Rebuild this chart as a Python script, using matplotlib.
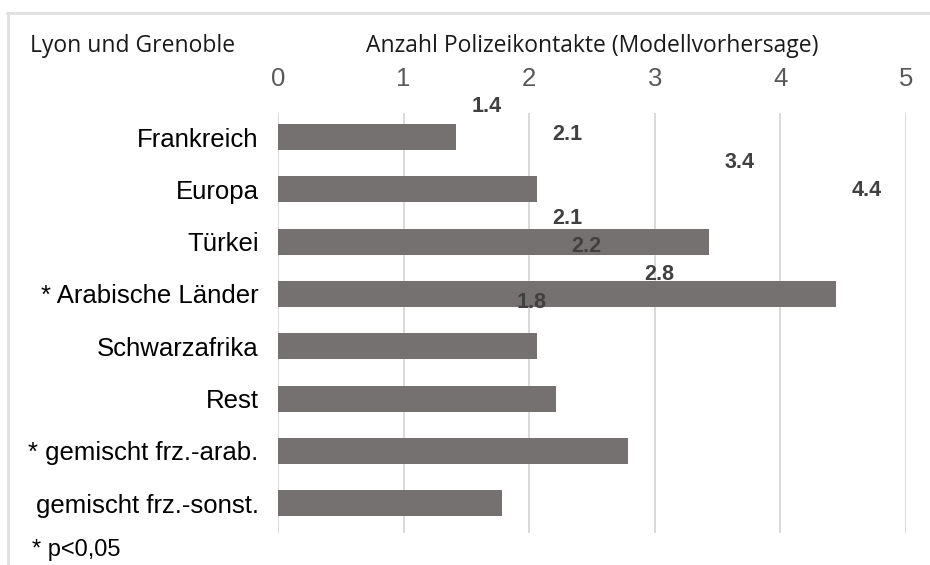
import matplotlib
matplotlib.use("Agg")
import matplotlib.pyplot as plt  # noqa: E402
from matplotlib.lines import Line2D  # noqa: E402

# ---- data --------------------------------------------------------------------
categories = ["Frankreich", "Europa", "Türkei", "* Arabische Länder",
              "Schwarzafrika", "Rest", "* gemischt frz.-arab.",
              "gemischt frz.-sonst."]
values = [1.42, 2.06, 3.43, 4.44, 2.06, 2.21, 2.79, 1.78]
xticks = [0, 1, 2, 3, 4, 5]

title = "Lyon und Grenoble"
xlabel = "Anzahl Polizeikontakte (Modellvorhersage)"
footnote = "* p<0,05"

BAR = "#767171"
GRID = "#d9d9d9"
SANS = ["Liberation Sans", "DejaVu Sans"]
HEAD = ["Open Sans", "DejaVu Sans"]

fig = plt.figure(figsize=(9.3, 5.65), dpi=100)
ax = fig.add_axes([278 / 930, 1 - 533 / 565, 628 / 930, 420 / 565])

pos = list(range(len(categories)))
ax.barh(pos, values, height=0.5, color=BAR, zorder=2)

# value labels: the source's data labels sit shifted up, at half the row pitch
for i, v in enumerate(values):
    ax.annotate(f"{v:.1f}", xy=(v, -0.59 + i * 0.535), xytext=(22, 0),
                textcoords="offset points", ha="center", va="center",
                fontsize=15.5, fontweight="bold", color="#404040",
                family=SANS, zorder=3, annotation_clip=False)

ax.set_xlim(0, 5)
ax.set_ylim(7.57, -0.46)
ax.set_xticks(xticks)
ax.set_yticks(pos)
ax.set_yticklabels(categories, fontsize=18.5, family=SANS, color="black")
ax.xaxis.tick_top()
ax.tick_params(axis="x", length=0, pad=15.5, labelsize=18.5, labelcolor="#595959")
ax.tick_params(axis="y", length=0, pad=14)
for lab in ax.get_xticklabels():
    lab.set_family(SANS)

ax.grid(axis="x", color=GRID, lw=1.4, zorder=0)
ax.set_axisbelow(True)
for s in ax.spines.values():
    s.set_visible(False)

fig.text(30 / 930, 1 - 52 / 565, title, fontsize=16.5, family=HEAD,
         color="#1a1a1a", va="baseline", ha="left")
fig.text(592 / 930, 1 - 52 / 565, xlabel, fontsize=16.5, family=HEAD,
         color="#1a1a1a", va="baseline", ha="center")
fig.text(32 / 930, 1 - 550 / 565, footnote, fontsize=17, family=SANS,
         color="black", va="center", ha="left")

# light frame of the source slide (top and left edges only)
fig.add_artist(Line2D([7 / 930, 1], [1 - 12.5 / 565] * 2, color="#e0e0e0",
                      lw=2, transform=fig.transFigure))
fig.add_artist(Line2D([7.5 / 930] * 2, [0, 1 - 12.5 / 565], color="#e0e0e0",
                      lw=2, transform=fig.transFigure))

fig.savefig("out.png", dpi=100)
